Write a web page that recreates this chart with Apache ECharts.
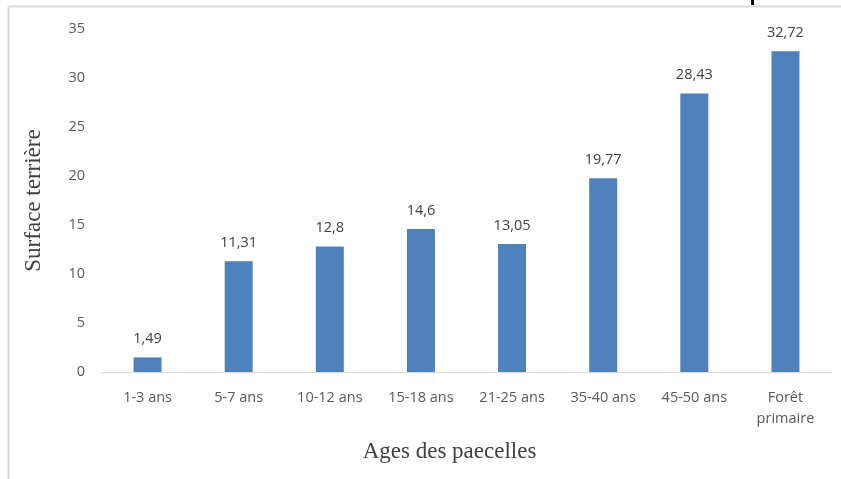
<!DOCTYPE html>
<html><head><meta charset="utf-8">
<script src="https://cdn.jsdelivr.net/npm/echarts@6/dist/echarts.min.js"></script>
<style>html,body{margin:0;padding:0;background:#fff;}#c{width:841px;height:479px;}</style>
</head><body><div id="c"></div>
<script>
const categories = ['1-3 ans','5-7 ans','10-12 ans','15-18 ans','21-25 ans','35-40 ans','45-50 ans','Forêt\nprimaire'];
const values = [1.49, 11.31, 12.8, 14.6, 13.05, 19.77, 28.43, 32.72];
const yTicks = [0, 35, 5];
const chart = echarts.init(document.getElementById('c'), null, {renderer:'canvas'});
chart.setOption({
  animation:false,
  graphic:[
    {type:'line', shape:{x1:8.5,y1:6.5,x2:841,y2:6.5}, style:{stroke:'#d9d9d9', lineWidth:2}},
    {type:'line', shape:{x1:8.5,y1:6.5,x2:8.5,y2:479}, style:{stroke:'#d9d9d9', lineWidth:2}},
    {type:'rect', shape:{x:751,y:0,width:3,height:5}, style:{fill:'#000'}}
  ],
  grid:{left:102, right:10, top:29, bottom:107},
  xAxis:{type:'category', data:categories,
    name:'Ages des paecelles', nameLocation:'middle', nameGap:68,
    nameTextStyle:{fontFamily:'Liberation Serif', fontSize:23, color:'#404040', padding:[0,34,0,0]},
    axisLine:{lineStyle:{color:'#d9d9d9'}}, axisTick:{show:false},
    axisLabel:{color:'#595959', fontFamily:'Open Sans', fontSize:14.5, margin:15, lineHeight:21, interval:0}},
  yAxis:{type:'value', min:yTicks[0], max:yTicks[1], interval:yTicks[2],
    name:'Surface terrière', nameLocation:'middle', nameGap:57,
    nameTextStyle:{fontFamily:'Liberation Serif', fontSize:23, color:'#404040'},
    axisLine:{show:false}, axisTick:{show:false}, splitLine:{show:false},
    axisLabel:{color:'#595959', fontFamily:'Open Sans', fontSize:14.5, margin:17}},
  series:[{type:'bar', data:values, barWidth:28,
    itemStyle:{color:'#4f81bd'},
    label:{show:true, position:'top', distance:11, color:'#404040', fontFamily:'Open Sans', fontSize:14.5,
      formatter:p=>String(p.value).replace('.',',')}}]
});
</script></body></html>
